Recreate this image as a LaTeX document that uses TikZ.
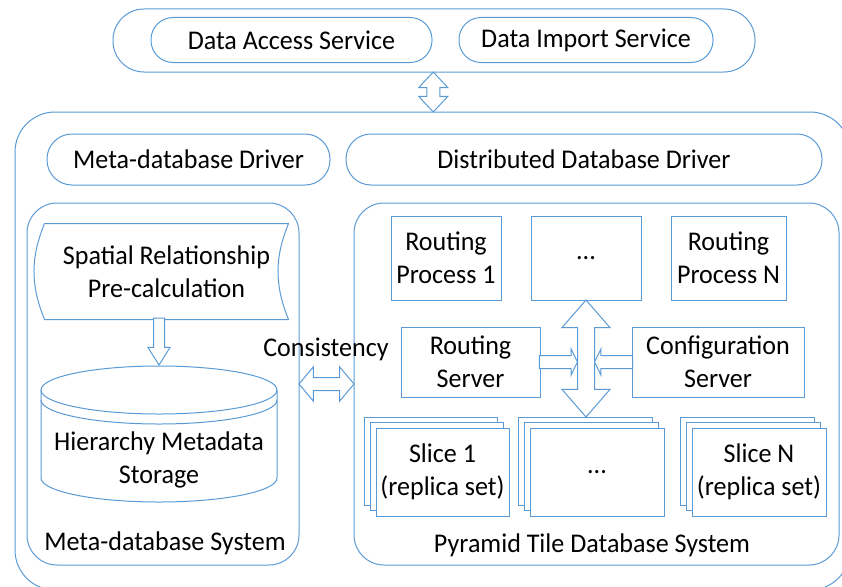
\documentclass[tikz,border=0pt]{standalone}
\usepackage{fontspec}
\setmainfont{Carlito}[FakeStretch=0.965]
\usepackage{tikz}
\usetikzlibrary{shapes.arrows}
\usetikzlibrary{shadows}
\usetikzlibrary{calc}
\definecolor{lineblue}{RGB}{91,155,213}

\begin{document}
\begin{tikzpicture}[x=1pt, y=-1pt, line width=1pt,
    font=\fontsize{27}{33}\selectfont,
    every node/.append style={align=center},
    box/.style={draw=lineblue, fill=white, inner sep=0pt},
    pill/.style={box, rounded corners=#1},
    stack/.style={box, double copy shadow={shadow xshift=-6pt, shadow yshift=5.5pt}},
    hollow/.style={draw=lineblue, fill=white, inner sep=#1, minimum width=0pt}]
    \useasboundingbox (0,0) rectangle (842,586);
    \clip (0,0) rectangle (842,586);

    % outer frames
    \node[pill=40pt, minimum width=835pt, minimum height=478pt] (core) at (432.5,351) {};
    \node[pill=31pt, minimum width=642pt, minimum height=63pt] (svc) at (434,40.5) {};
    \node[pill=22pt, minimum width=281pt, minimum height=45pt] (access) at (291.5,40) {Data Access Service};
    \node[pill=22pt, minimum width=254pt, minimum height=45pt] (import) at (586,40) {Data Import Service};
    \node[pill=25pt, minimum width=283pt, minimum height=51pt] (metadrv) at (188.5,159.5) {Meta-database Driver};
    \node[pill=25pt, minimum width=476pt, minimum height=51pt] (distdrv) at (584,159.5) {Distributed Database Driver};
    \node[pill=30pt, minimum width=272pt, minimum height=362pt] (metasys) at (163,384) {};
    \node[pill=30pt, minimum width=485pt, minimum height=362pt] (tilesys) at (596.5,384) {};
    \node (metaname) at (165,543) {Meta-database System};
    \node (tilename) at (592,545) {Pyramid Tile Database System};

    % meta-database side
    \node[minimum width=243pt, minimum height=95pt] (spatial) at (166.5,271.5) {Spatial Relationship\\Pre-calculation};
    \draw[draw=lineblue] (spatial.north west) -- (spatial.north east) to[bend right=22] (spatial.south east)
        -- (spatial.south west) to[bend left=22] (spatial.north west) -- cycle;
    \draw[draw=lineblue, fill=white] (41,390) -- (41,478) arc[start angle=180, end angle=0, x radius=118, y radius=24] -- (277,390);
    \draw[draw=lineblue] (159,390) ellipse [x radius=118, y radius=24];
    \draw[draw=lineblue] (41,400) arc[start angle=180, end angle=0, x radius=118, y radius=24];
    \coordinate (storetop) at (159,366);
    \node (store) at (159,460) {Hierarchy Metadata\\Storage};

    % tile database side
    \node[box, minimum width=110pt, minimum height=84pt] (rp1) at (446,258) {Routing\\Process 1};
    \node[box, minimum width=110pt, minimum height=84pt] (rpdots) at (586,258) {...};
    \node[box, minimum width=115pt, minimum height=84pt] (rpn) at (728.5,258) {Routing\\Process N};
    \node[box, minimum width=139pt, minimum height=70pt] (rsrv) at (470.5,362) {Routing\\Server};
    \node[box, minimum width=172pt, minimum height=70pt] (cfg) at (718,362) {Configuration\\Server};
    \node[stack, minimum width=133pt, minimum height=88pt] (slice1) at (442.5,472) {Slice 1\\(replica set)};
    \node[stack, minimum width=134pt, minimum height=88pt] (slicedots) at (597,472) {...};
    \node[stack, minimum width=134pt, minimum height=88pt] (slicen) at (759,472) {Slice N\\(replica set)};

    % hollow arrows
    \node[hollow=6pt, double arrow, double arrow head extend=8pt, double arrow tip angle=86,
        minimum height=40pt, rotate=90] (link) at ($(svc.south)!.5!(core.north)$) {};
    \node[hollow=5pt, single arrow, single arrow head extend=5.5pt, single arrow tip angle=64,
        minimum height=47pt, rotate=-90, anchor=tip] (feed) at (storetop) {};
    \node[hollow=6pt, double arrow, double arrow head extend=10.5pt, double arrow tip angle=100,
        minimum height=55pt] (sync) at ($(metasys.east)!.5!(tilesys.west)$) {};
    \node (cons) at (326,349) {Consistency};
    \node[hollow=8pt, double arrow, double arrow head extend=15.5pt, double arrow tip angle=82,
        minimum height=117pt, rotate=90] (bus) at ($(rpdots.south)!.5!(rpdots.south |- slicedots.north)+(0,-5.5)$) {};
    \node[hollow=6pt, single arrow, single arrow head extend=6.5pt, single arrow tip angle=128,
        minimum height=38pt, anchor=tip] (push) at ($(bus.center |- rsrv.east)+(-8,0)$) {};
    \node[hollow=6pt, single arrow, single arrow head extend=6.5pt, single arrow tip angle=128,
        minimum height=38pt, rotate=180, anchor=tip] (pull) at ($(bus.center |- cfg.west)+(8,0)$) {};
\end{tikzpicture}
\end{document}
